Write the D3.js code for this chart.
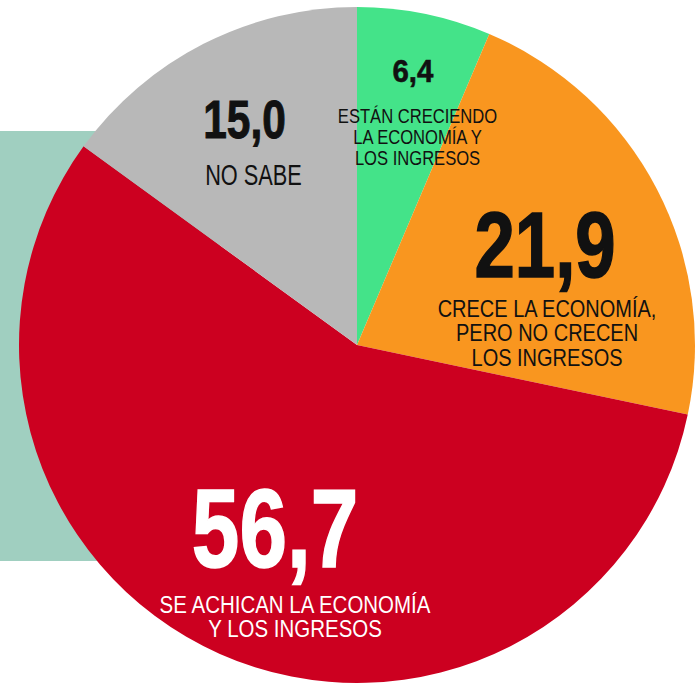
<!DOCTYPE html>
<html>
<head>
<meta charset="utf-8">
<script src="https://cdn.jsdelivr.net/npm/d3@7"></script>
<style>
  html, body { margin: 0; padding: 0; background: #fff; }
  svg { display: block; }
</style>
</head>
<body>
<div id="chart"></div>
<script>
// Encuesta: percepción sobre la economía y los ingresos (%)
var categories = [
  'ESTÁN CRECIENDO|LA ECONOMÍA Y|LOS INGRESOS',
  'CRECE LA ECONOMÍA,|PERO NO CRECEN|LOS INGRESOS',
  'SE ACHICAN LA ECONOMÍA|Y LOS INGRESOS',
  'NO SABE'
];
var values = [6.4, 21.9, 56.7, 15.0];
var valueLabels = ['6,4', '21,9', '56,7', '15,0'];

var WIDTH = 697;
var HEIGHT = 685;
var CX = 357;
var CY = 345;
var RADIUS = 338;

var COLORS = ['#44e389', '#f9961f', '#cc0020', '#b8b8b8'];
var TEXT_COLORS = ['#111', '#111', '#fff', '#111'];

// label placement: anchor radius on the slice mid-angle, then offsets
var LABEL_LAYOUT = [
  { r: 280, vdx: 0, vdy: 11.4, vsize: 31, vsx: 0.95, vstroke: 0.6, cdx: 4.6, cdy: 52.4, csize: 21, csx: 0.79, lh: 21 },
  { r: 215, vdx: -2.6, vdy: 31.4, vsize: 93, vsx: 0.78, vstroke: 1.6, cdx: -0.6, cdy: 71.4, csize: 24, csx: 0.833, lh: 24.5 },
  { r: 202, vdx: 0, vdy: 37.4, vsize: 111, vsx: 0.77, vstroke: 1.6, cdx: 20, cdy: 83, csize: 24, csx: 0.854, lh: 24.5 },
  { r: 247.8, vdx: 0, vdy: 13.8, vsize: 53, vsx: 0.80, vstroke: 1, cdx: 9, cdy: 60.8, csize: 29, csx: 0.75, lh: 24 }
];

var svg = d3.select('#chart').append('svg')
  .attr('width', WIDTH)
  .attr('height', HEIGHT)
  .style('font-family', '"Liberation Sans", Arial, sans-serif');

// teal panel behind the pie
svg.append('rect')
  .attr('x', 0)
  .attr('y', 131)
  .attr('width', 220)
  .attr('height', 430)
  .attr('fill', '#a0cfc0');

var pie = d3.pie().sort(null).value(function(d) { return d; });
var arcs = pie(values);

var arc = d3.arc().innerRadius(0).outerRadius(RADIUS);

var g = svg.append('g').attr('transform', 'translate(' + CX + ',' + CY + ')');

g.selectAll('path.slice')
  .data(arcs)
  .enter().append('path')
  .attr('class', 'slice')
  .attr('d', arc)
  .attr('fill', function(d, i) { return COLORS[i]; });

arcs.forEach(function(d, i) {
  var lay = LABEL_LAYOUT[i];
  var anchor = d3.arc().innerRadius(lay.r).outerRadius(lay.r).centroid(d);
  var ax = anchor[0], ay = anchor[1];

  g.append('text')
    .attr('transform', 'translate(' + (ax + lay.vdx) + ',' + (ay + lay.vdy) + ') scale(' + lay.vsx + ',1)')
    .attr('text-anchor', 'middle')
    .attr('font-weight', 'bold')
    .attr('font-size', lay.vsize + 'px')
    .attr('fill', TEXT_COLORS[i])
    .attr('stroke', TEXT_COLORS[i])
    .attr('stroke-width', lay.vstroke)
    .text(valueLabels[i]);

  var lines = categories[i].split('|');
  var cap = g.append('text')
    .attr('transform', 'translate(' + (ax + lay.cdx) + ',' + (ay + lay.cdy) + ') scale(' + lay.csx + ',1)')
    .attr('text-anchor', 'middle')
    .attr('font-size', lay.csize + 'px')
    .attr('fill', TEXT_COLORS[i]);
  lines.forEach(function(line, li) {
    cap.append('tspan')
      .attr('x', 0)
      .attr('y', li * lay.lh)
      .text(line);
  });
});
</script>
</body>
</html>
